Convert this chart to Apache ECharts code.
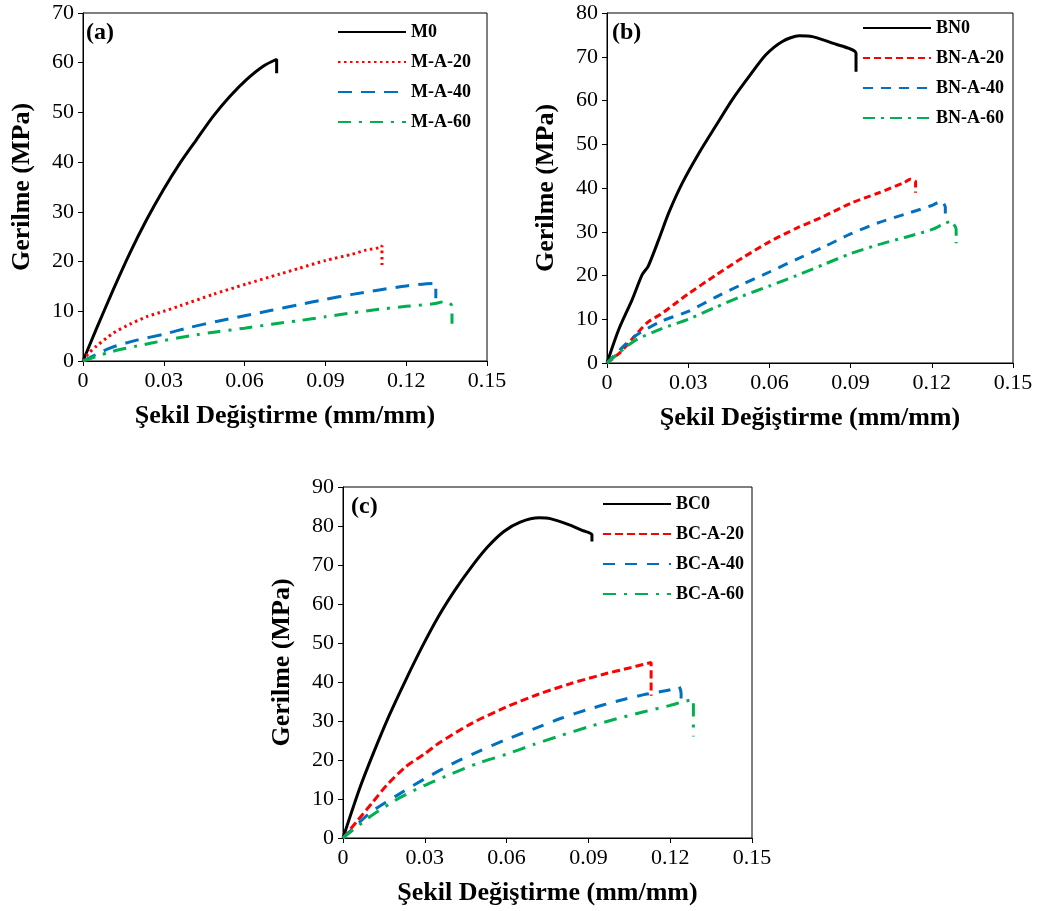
<!DOCTYPE html>
<html><head><meta charset="utf-8">
<script src="https://cdn.jsdelivr.net/npm/echarts@6/dist/echarts.min.js"></script>
<style>html,body{margin:0;padding:0;background:#fff}#c{width:1044px;height:911px}</style>
</head><body><div id="c"></div>
<script>
// ---- Data (strain mm/mm, stress MPa) ----
const xTicks = [0, 0.03, 0.06, 0.09, 0.12, 0.15];
const M0 = [[0,0],[0.005,6.5],[0.0112,14.3],[0.0174,21.7],[0.0236,28.4],[0.0298,34.4],[0.036,39.8],[0.0421,44.5],[0.0483,49.2],[0.0545,53.2],[0.0607,56.6],[0.0669,59.3],[0.0719,60.7],[0.0719,57.9]];
const MA20 = [[0,0],[0.002,1.5],[0.005,3],[0.0112,5.6],[0.0174,7.4],[0.0236,8.9],[0.03,10],[0.036,11.1],[0.0483,13.4],[0.0607,15.5],[0.0731,17.5],[0.08,18.6],[0.09,20.2],[0.1,21.5],[0.105,22.3],[0.11,22.8],[0.111,23.2],[0.111,19.3]];
const MA40 = [[0,0],[0.01,2.6],[0.02,4.2],[0.03,5.4],[0.04,6.8],[0.05,8],[0.06,9.1],[0.07,10.2],[0.08,11.3],[0.09,12.4],[0.1,13.4],[0.11,14.3],[0.12,15.1],[0.13,15.6],[0.131,15.6],[0.131,12.6]];
const MA60 = [[0,0],[0.01,1.8],[0.02,3],[0.03,4.1],[0.04,5.1],[0.05,5.9],[0.06,6.6],[0.07,7.4],[0.08,8.1],[0.09,8.9],[0.1,9.7],[0.11,10.4],[0.12,11],[0.13,11.5],[0.135,12],[0.137,11],[0.137,7.5]];

const BN0 = [[0,0],[0.0043,7.6],[0.0093,14.5],[0.013,20.2],[0.0152,22.1],[0.0191,28.2],[0.0228,34.3],[0.0278,41.1],[0.034,48],[0.0401,54.1],[0.0463,60.2],[0.0525,65.5],[0.0586,70.4],[0.0648,73.5],[0.071,74.8],[0.0759,74.6],[0.0833,73.1],[0.092,70.8],[0.092,66.6]];
const BNA20 = [[0,0],[0.005,2.5],[0.01,6],[0.015,9.3],[0.02,11.2],[0.025,13.5],[0.03,15.8],[0.04,20],[0.05,24],[0.06,27.7],[0.07,30.8],[0.08,33.5],[0.09,36.5],[0.1,38.8],[0.11,41.3],[0.112,42],[0.114,41.5],[0.114,38.9]];
const BNA40 = [[0,0],[0.01,6],[0.02,9.5],[0.03,11.8],[0.04,15],[0.05,18],[0.06,20.8],[0.07,23.7],[0.08,26.5],[0.09,29.5],[0.1,32],[0.11,34],[0.12,36],[0.1235,37],[0.125,35.5],[0.125,33]];
const BNA60 = [[0,0],[0.01,5],[0.02,7.8],[0.03,10],[0.04,12.7],[0.05,15.3],[0.06,17.6],[0.07,20],[0.08,22.5],[0.09,25],[0.1,27],[0.11,28.7],[0.12,30.5],[0.127,32.3],[0.129,30.5],[0.129,27.4]];

const BC0 = [[0,0],[0.006,12.5],[0.011,21.5],[0.017,31.5],[0.023,40.5],[0.029,49],[0.035,56.8],[0.041,63.5],[0.047,69.4],[0.053,74.6],[0.059,78.6],[0.065,81],[0.072,82.1],[0.076,81.9],[0.083,80.3],[0.088,78.8],[0.0913,77.8],[0.0913,76]];
const BCA20 = [[0,0],[0.005,4.2],[0.0107,9],[0.016,13.5],[0.0229,18.2],[0.03,21.6],[0.0351,24.3],[0.0472,29.4],[0.0593,33.4],[0.0714,36.8],[0.0835,39.6],[0.0956,42],[0.105,43.6],[0.11,44.5],[0.113,45],[0.113,36.5]];
const BCA40 = [[0,0],[0.01,6.5],[0.02,11],[0.03,15.2],[0.04,19],[0.05,22.3],[0.06,25.3],[0.07,28],[0.08,30.7],[0.09,33],[0.1,35],[0.11,36.7],[0.12,38],[0.123,39],[0.124,37],[0.124,34.5]];
const BCA60 = [[0,0],[0.01,5.5],[0.02,10],[0.03,13.5],[0.04,16.5],[0.05,19.3],[0.06,21.5],[0.07,24],[0.08,26.3],[0.09,28.5],[0.1,30.5],[0.11,32.3],[0.12,34],[0.125,35],[0.1285,35.5],[0.1285,30],[0.1285,26]];

const yMaxes = [70, 80, 90];
const panelLabels = ['(a)', '(b)', '(c)'];
const seriesNames = [['M0','M-A-20','M-A-40','M-A-60'],['BN0','BN-A-20','BN-A-40','BN-A-60'],['BC0','BC-A-20','BC-A-40','BC-A-60']];
const seriesData = [[M0,MA20,MA40,MA60],[BN0,BNA20,BNA40,BNA60],[BC0,BCA20,BCA40,BCA60]];
const xTitle = 'Şekil Değiştirme (mm/mm)';
const yTitle = 'Gerilme (MPa)';

// ---- Layout / styles ----
const FONT = 'Liberation Serif';
const grids = [
  {left:83, top:13, width:404, height:348},
  {left:607, top:13, width:406, height:350},
  {left:343, top:487, width:409, height:351}
];
const legendPos = [{left:337, top:22},{left:862, top:18},{left:602, top:494}];
const titlePos = [{left:86, top:21},{left:612, top:21},{left:351, top:495}];
const colors = ['#000000','#FF0000','#0070C0','#00B050'];
const dashes = [
  ['solid',[2.5,3.5],[14,9],[13,8,3,8]],
  ['solid',[7,4],[10,8],[12,6,3,6]],
  ['solid',[8,4],[12,10],[13,8,3,8]]
];

const option = {
  backgroundColor:'#fff',
  animation:false,
  title: panelLabels.map((t,i)=>({text:t,left:titlePos[i].left,top:titlePos[i].top,padding:0,
    textStyle:{fontFamily:FONT,fontWeight:'bold',fontSize:24,color:'#000'}})),
  grid: grids.map(g=>Object.assign({show:true,borderColor:'#000',borderWidth:1,backgroundColor:'transparent'},g)),
  legend: seriesNames.map((names,i)=>({data:names,orient:'vertical',left:legendPos[i].left,top:legendPos[i].top,
    padding:0,itemWidth:68,itemHeight:20,itemGap:10,selectedMode:false,
    itemStyle:{opacity:0},
    textStyle:{fontFamily:FONT,fontWeight:'bold',fontSize:18,color:'#000',lineHeight:20}})),
  xAxis: grids.map((g,i)=>({type:'value',gridIndex:i,min:0,max:0.15,interval:0.03,
    name:xTitle,nameLocation:'middle',nameGap:42,
    nameTextStyle:{fontFamily:FONT,fontWeight:'bold',fontSize:26,color:'#000'},
    axisLine:{show:true,lineStyle:{color:'#000',width:1}},
    axisTick:{show:true,inside:false,length:5,lineStyle:{color:'#000'}},
    splitLine:{show:false},
    axisLabel:{margin:9,fontFamily:FONT,fontSize:22,color:'#000',formatter:v=>v===0?'0':v.toFixed(2)}})),
  yAxis: grids.map((g,i)=>({type:'value',gridIndex:i,min:0,max:yMaxes[i],interval:10,
    name:yTitle,nameLocation:'middle',nameGap:48,
    nameTextStyle:{fontFamily:FONT,fontWeight:'bold',fontSize:26,color:'#000'},
    axisLine:{show:true,lineStyle:{color:'#000',width:1}},
    axisTick:{show:true,inside:false,length:5,lineStyle:{color:'#000'}},
    splitLine:{show:false},
    axisLabel:{margin:9,fontFamily:FONT,fontSize:22,color:'#000'}})),
  series: []
};
seriesNames.forEach((names,i)=>{
  names.forEach((n,j)=>{
    option.series.push({type:'line',name:n,xAxisIndex:i,yAxisIndex:i,data:seriesData[i][j],
      showSymbol:false,symbol:'none',smooth:0.25,
      color:colors[j],
      lineStyle:{color:colors[j],width:3,type:dashes[i][j]}});
  });
});
const chart = echarts.init(document.getElementById('c'),null,{renderer:'canvas'});
chart.setOption(option);
</script></body></html>
